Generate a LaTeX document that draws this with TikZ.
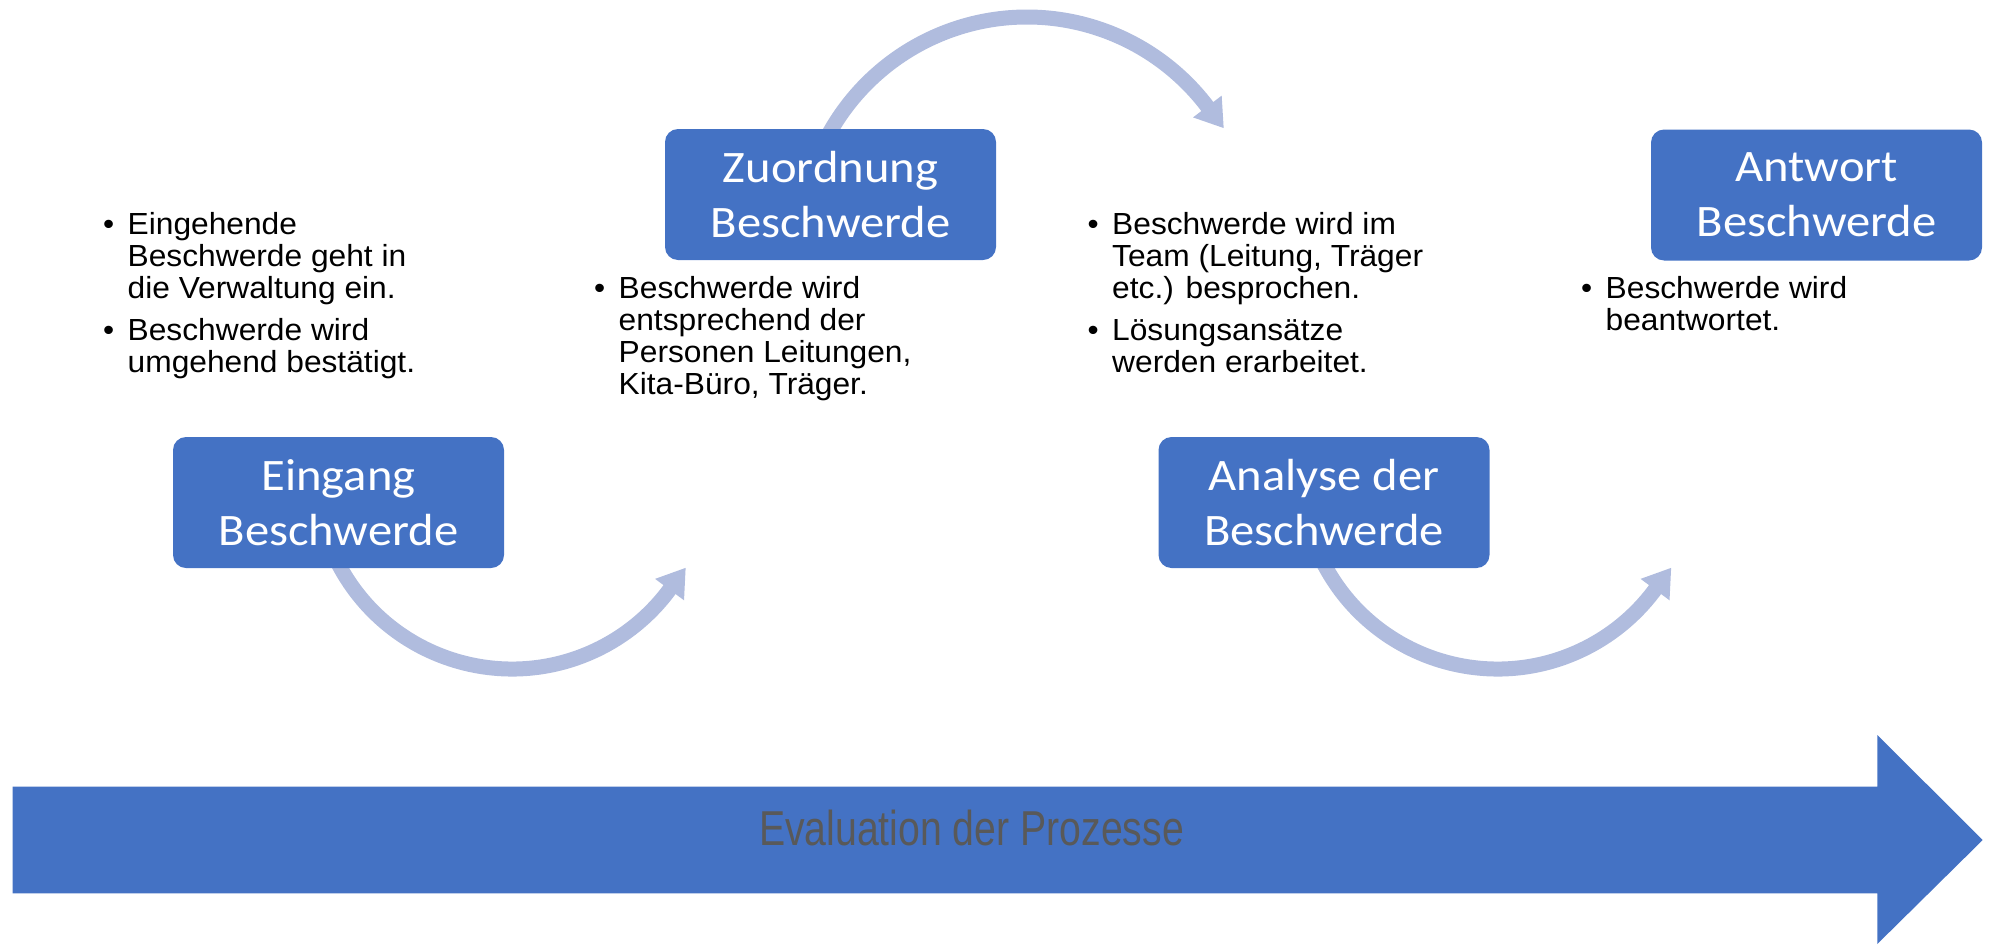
\documentclass[tikz,border=0pt]{standalone}
\usepackage{fontspec}
\usetikzlibrary{calc}
\newfontfamily\boxfont[FakeStretch=1.08]{Carlito}
\newfontfamily\bulfont[FakeStretch=1.04]{Liberation Sans}
\newfontfamily\evalfont[FakeStretch=0.8]{Liberation Sans}
\definecolor{boxblue}{HTML}{4472C4}
\definecolor{arclight}{HTML}{B0BCDE}
\definecolor{evalgray}{HTML}{595959}
\tikzset{
  stepbox/.style={fill=boxblue, rounded corners=13pt, minimum width=331pt, minimum height=131pt,
    inner sep=0pt, text=white, align=center, font=\boxfont\fontsize{45}{55}\selectfont},
  bul/.style={anchor=base west, inner sep=0pt, font=\bulfont\fontsize{30.5}{32}\selectfont},
  arcline/.style={draw=arclight, line width=15pt},
  archead/.style={fill=arclight},
  bigarrow/.style={fill=boxblue},
}
\begin{document}
\begin{tikzpicture}[x=1pt,y=-1pt]
\useasboundingbox (0,0) rectangle (1991,945);
% circular arrows (behind boxes)
\coordinate (c1) at (512,473);
\coordinate (c2) at (1027,243.4);
\coordinate (c3) at (1497.5,473);
\draw[arcline] ($(c1)+(153:196)$) arc[start angle=153, end angle=35.5, radius=196];
\fill[archead] ($(c1)+(36.5:196)+(36.5:18)$) -- ($(c1)+(36.5:196)+(-53.5:27)$) -- ($(c1)+(36.5:196)+(216.5:18)$) -- cycle;
\draw[arcline] ($(c3)+(153:196)$) arc[start angle=153, end angle=35.5, radius=196];
\fill[archead] ($(c3)+(36.5:196)+(36.5:18)$) -- ($(c3)+(36.5:196)+(-53.5:27)$) -- ($(c3)+(36.5:196)+(216.5:18)$) -- cycle;
\draw[arcline] ($(c2)+(-151:226.4)$) arc[start angle=-151, end angle=-36.2, radius=226.4];
\fill[archead] ($(c2)+(-37.2:226.4)+(-37.2:18)$) -- ($(c2)+(-37.2:226.4)+(52.8:27)$) -- ($(c2)+(-37.2:226.4)+(142.8:18)$) -- cycle;
% boxes
\node[stepbox] (eing) at (338.5,502.5) {Eingang\\Beschwerde};
\node[stepbox] (zuord) at (830.5,194.5) {Zuordnung\\Beschwerde};
\node[stepbox] (anal) at (1324,502.5) {Analyse der\\Beschwerde};
\node[stepbox] (antw) at (1816.5,195) {Antwort\\Beschwerde};
% bullets block 1
\node[bul] (p1) at (103,234) {•};
\node[bul] (t1a) at (127.5,234) {Eingehende};
\node[bul] (t1b) at (127.5,266.2) {Beschwerde geht in};
\node[bul] (t1c) at (127.5,298.4) {die Verwaltung ein.};
\node[bul] (p2) at (103,340) {•};
\node[bul] (t1d) at (127.5,340) {Beschwerde wird};
\node[bul] (t1e) at (127.5,372.2) {umgehend bestätigt.};
% bullets block 2
\node[bul] (p3) at (594,298.4) {•};
\node[bul] (t2a) at (618.5,298.4) {Beschwerde wird};
\node[bul] (t2b) at (618.5,330.4) {entsprechend der};
\node[bul] (t2c) at (618.5,362.4) {Personen Leitungen,};
\node[bul] (t2d) at (618.5,394.4) {Kita-Büro, Träger.};
% bullets block 3
\node[bul] (p4) at (1087.5,234) {•};
\node[bul] (t3a) at (1112,234) {Beschwerde wird im};
\node[bul] (t3b) at (1112,266.2) {Team (Leitung, Träger};
\node[bul] (t3c) at (1112,298.4) {etc.) besprochen.};
\node[bul] (p5) at (1087.5,340) {•};
\node[bul] (t3d) at (1112,340) {Lösungsansätze};
\node[bul] (t3e) at (1112,372.2) {werden erarbeitet.};
% bullets block 4
\node[bul] (p6) at (1581,298.4) {•};
\node[bul] (t4a) at (1605.5,298.4) {Beschwerde wird};
\node[bul] (t4b) at (1605.5,330.4) {beantwortet.};
% big arrow
\fill[bigarrow] (12.7,786.7) -- (1877.3,786.7) -- (1877.3,735) -- (1982.7,840)
  -- (1877.3,944) -- (1877.3,893.3) -- (12.7,893.3) -- cycle;
\node[anchor=base, inner sep=0pt, text=evalgray, font=\evalfont\fontsize{49}{58}\selectfont] (eval) at (971.5,845) {Evaluation der Prozesse};
\end{tikzpicture}
\end{document}
